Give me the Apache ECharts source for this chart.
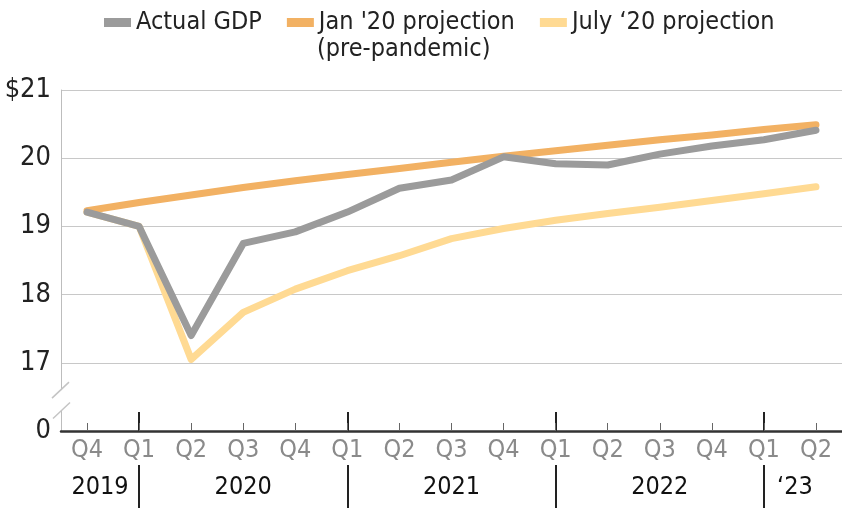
<!DOCTYPE html>
<html>
<head>
<meta charset="utf-8">
<script src="https://cdn.jsdelivr.net/npm/echarts@6/dist/echarts.min.js"></script>
<style>
html,body{margin:0;padding:0;background:#fff;}
#chart{width:842px;height:508px;}
</style>
</head>
<body>
<div id="chart"></div>
<script>
// ---- data ----
var quarters = ['Q4','Q1','Q2','Q3','Q4','Q1','Q2','Q3','Q4','Q1','Q2','Q3','Q4','Q1','Q2'];
var yearLabels = ['2019','','','2020','','','','2021','','','','2022','','\u201823',''];
var actualGDP = [19.21, 19.00, 17.40, 18.75, 18.92, 19.21, 19.56, 19.68, 20.02, 19.92, 19.90, 20.06, 20.18, 20.27, 20.41];
var jan20Proj = [19.23, 19.35, 19.46, 19.57, 19.67, 19.76, 19.85, 19.94, 20.03, 20.11, 20.19, 20.27, 20.34, 20.42, 20.49];
var jul20Proj = [19.21, 19.00, 17.05, 17.74, 18.08, 18.35, 18.57, 18.82, 18.97, 19.09, 19.19, 19.28, 19.38, 19.48, 19.58];
var yTickValues = [16, 17, 18, 19, 20, 21];
var yTickLabels = ['0', '17', '18', '19', '20', '$21'];
var seriesNames = ['Actual GDP', "Jan '20 projection", 'July \u201820 projection'];
var legendSubtitle = '(pre-pandemic)';

var FONT = '"Liberation Sans Narrow", "DejaVu Sans Condensed", "Roboto", sans-serif';
var colors = ['#9b9b9b', '#f2b163', '#ffda93'];

function isQ1(idx) { return quarters[idx] === 'Q1'; }

var chart = echarts.init(document.getElementById('chart'), null, {renderer: 'canvas'});
var option = {
  animation: false,
  color: colors,
  textStyle: {fontFamily: FONT},
  legend: {
    top: 5,
    left: 99,
    width: 740,
    itemWidth: 27,
    itemHeight: 9,
    itemGap: 25,
    icon: 'rect',
    textStyle: {fontFamily: FONT, fontSize: 25, color: '#222'},
    data: seriesNames
  },
  grid: {left: 61, top: 90, width: 788, bottom: 77, containLabel: false},
  xAxis: [
    {
      type: 'category', data: quarters, boundaryGap: true, position: 'bottom',
      axisLine: {show: true, lineStyle: {color: '#333', width: 2.5}},
      axisTick: {show: true, inside: true, length: 8, alignWithLabel: true, lineStyle: {color: '#666', width: 1}},
      axisLabel: {show: true, interval: 0, margin: 7, fontFamily: FONT, fontSize: 25, color: '#8a8a8a'},
      splitLine: {show: false}, z: 5
    },
    {
      type: 'category', data: quarters, boundaryGap: true, position: 'bottom',
      axisLine: {show: false},
      axisTick: {show: true, inside: true, length: 19, alignWithLabel: true, interval: function (i) { return isQ1(i); }, lineStyle: {color: '#222', width: 2}},
      axisLabel: {show: false}, splitLine: {show: false}
    },
    {
      type: 'category', data: quarters, boundaryGap: true, position: 'bottom', offset: 34,
      axisLine: {show: false},
      axisTick: {show: true, inside: false, length: 45, alignWithLabel: true, interval: function (i) { return isQ1(i); }, lineStyle: {color: '#222', width: 2}},
      axisLabel: {
        show: true, interval: 0, margin: 10, fontFamily: FONT, fontSize: 25, color: '#111',
        formatter: function (v, i) {
          var t = yearLabels[i];
          if (!t) return '';
          if (i === 0) return '{a|' + t + '}';
          if (i === quarters.length - 2) return '{b|' + t + '}';
          return t;
        },
        rich: {
          a: {fontFamily: FONT, fontSize: 25, color: '#111', padding: [0, 0, 0, 26]},
          b: {fontFamily: FONT, fontSize: 25, color: '#111', padding: [0, 0, 0, 62]}
        }
      },
      splitLine: {show: false}
    }
  ],
  yAxis: {
    type: 'value', min: 16, max: 21, interval: 1,
    axisLine: {show: true, lineStyle: {color: '#bdbdbd', width: 1}},
    axisTick: {show: false},
    axisLabel: {
      margin: 10, fontFamily: FONT, fontSize: 27, color: '#222',
      formatter: function (v) { var k = yTickValues.indexOf(v); return k >= 0 ? yTickLabels[k] : ''; }
    },
    splitLine: {show: true, lineStyle: {color: '#c8c8c8', width: 1.2}}
  },
  series: [
    {name: seriesNames[0], type: 'line', data: actualGDP, symbol: 'none', z: 4,
     lineStyle: {width: 7, color: colors[0], cap: 'round', join: 'round'}, itemStyle: {color: colors[0]}},
    {name: seriesNames[1], type: 'line', data: jan20Proj, symbol: 'none', z: 3,
     lineStyle: {width: 7, color: colors[1], cap: 'round', join: 'round'}, itemStyle: {color: colors[1]}},
    {name: seriesNames[2], type: 'line', data: jul20Proj, symbol: 'none', z: 2,
     lineStyle: {width: 7, color: colors[2], cap: 'round', join: 'round'}, itemStyle: {color: colors[2]}}
  ]
};
chart.setOption(option);

// axis break marks and legend sub-line
var ax = 61;
var yTop = chart.convertToPixel({yAxisIndex: 0}, 16.6);
var yBot = chart.convertToPixel({yAxisIndex: 0}, 16.3);
chart.setOption({
  graphic: [
    {type: 'rect', shape: {x: ax - 3, y: yTop, width: 6, height: yBot - yTop}, style: {fill: '#fff'}, z: 10},
    {type: 'line', shape: {x1: ax - 9, y1: yTop + 8, x2: ax + 8, y2: yTop - 8}, style: {stroke: '#c4c4c4', lineWidth: 1.5}, z: 11},
    {type: 'line', shape: {x1: ax - 8, y1: yBot + 8, x2: ax + 9, y2: yBot - 8}, style: {stroke: '#c4c4c4', lineWidth: 1.5}, z: 11},
    {type: 'text', left: 317, top: 37, style: {text: legendSubtitle, fontFamily: FONT, fontSize: 25, fill: '#222'}, z: 11}
  ]
});
</script>
</body>
</html>
